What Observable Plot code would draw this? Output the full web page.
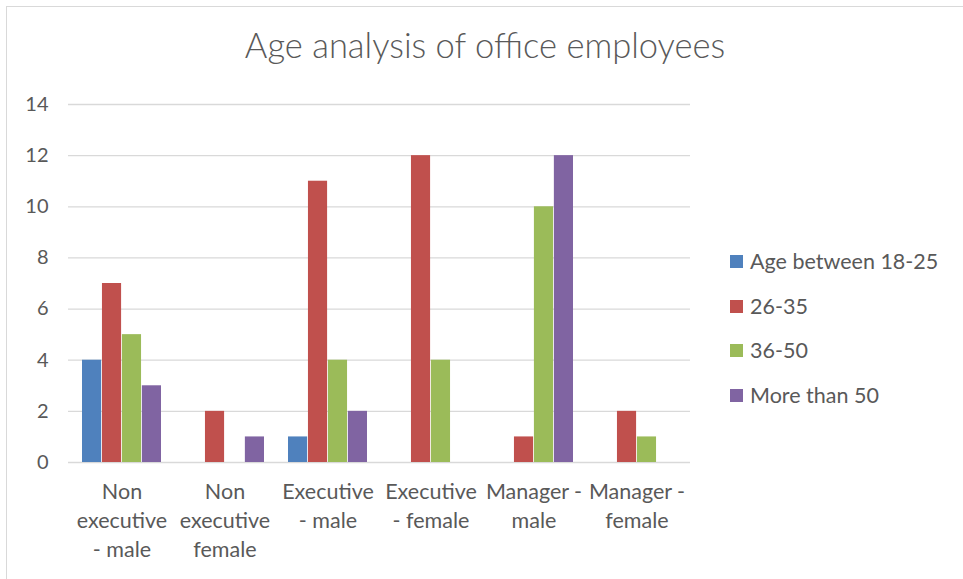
<!DOCTYPE html>
<html>
<head>
<meta charset="utf-8">
<script src="https://cdn.jsdelivr.net/npm/d3@7"></script>
<script src="https://cdn.jsdelivr.net/npm/@observablehq/plot@0.6"></script>
<style>
  body { margin: 0; background: #fff; }
  #wrap { position: relative; width: 963px; height: 579px; overflow: hidden; font-family: Lato, "Open Sans", sans-serif; color: #595959; }
  #border { position: absolute; left: 6px; top: 6px; width: 975px; height: 590px; border: 1px solid #d9d9d9; box-sizing: border-box; }
  #title { position: absolute; left: 0; width: 970px; top: 28px; text-align: center; font-size: 34.5px; font-weight: 300; color: #595959; line-height: 1; }
  #legend { position: absolute; left: 730px; top: 249px; }
  .item { position: relative; height: 44.5px; font-size: 21.5px; white-space: nowrap; }
  .sw { position: absolute; left: 0; top: 6px; width: 13px; height: 13px; }
  .lab { position: absolute; left: 20px; top: 0; line-height: 25px; }
  #chart { position: absolute; left: 0; top: 0; }
</style>
</head>
<body>
<div id="wrap">
  <div id="border"></div>
  <div id="chart"></div>
  <div id="title">Age analysis of office employees</div>
  <div id="legend"></div>
</div>
<script>
const categories = ["Non executive - male", "Non executive female", "Executive - male", "Executive - female", "Manager - male", "Manager - female"];
const categoryLabels = ["Non\nexecutive\n- male", "Non\nexecutive\nfemale", "Executive\n- male", "Executive\n- female", "Manager -\nmale", "Manager -\nfemale"];
const series = ["Age between 18-25", "26-35", "36-50", "More than 50"];
const colors = ["#4f81bd", "#c0504d", "#9bbb59", "#8064a2"];
const age18to25 = [4, 0, 1, 0, 0, 0];
const age26to35 = [7, 2, 11, 12, 1, 2];
const age36to50 = [5, 0, 4, 4, 10, 1];
const ageOver50 = [3, 1, 2, 0, 12, 0];
const yTicks = [0, 2, 4, 6, 8, 10, 12, 14];

const values = [age18to25, age26to35, age36to50, ageOver50];
const rows = [];
series.forEach((s, si) => categories.forEach((c, ci) => rows.push({category: c, series: s, value: values[si][ci]})));

const W = 963, H = 579, mL = 68, mR = 273, mT = 104, mB = 117;
const pi = 0.23, po = 0.115;
const step = (W - mL - mR) / (categories.length - pi + 2 * po);
const bw = step * (1 - pi) / series.length;

const chart = Plot.plot({
  width: W, height: H,
  marginLeft: mL, marginRight: mR, marginTop: mT, marginBottom: mB,
  style: {fontFamily: "Lato, 'Open Sans', sans-serif", fontSize: "20px", color: "#595959", background: "transparent"},
  x: {domain: categories, paddingInner: pi, paddingOuter: po, axis: null},
  y: {domain: [0, 14], ticks: yTicks, tickSize: 0, tickPadding: 20, label: null, tickFormat: d => d},
  color: {domain: series, range: colors},
  marks: [
    Plot.ruleY(yTicks, {stroke: "#d9d9d9", strokeWidth: 1.3}),
    ...series.map((s, i) => Plot.barY(rows.filter(r => r.series === s), {
      x: "category", y: "value", fill: "series",
      insetLeft: i * bw, insetRight: (series.length - 1 - i) * bw
    })),
    Plot.text(categories, {
      x: d => d, text: (d, i) => categoryLabels[i],
      frameAnchor: "bottom", lineAnchor: "top", dy: 16,
      fontSize: 21.5, lineHeight: 1.35, fill: "#595959"
    })
  ]
});
document.getElementById("chart").appendChild(chart);

const legend = document.getElementById("legend");
series.forEach((s, i) => {
  const item = document.createElement("div");
  item.className = "item";
  item.innerHTML = `<span class="sw" style="background:${colors[i]}"></span><span class="lab">${s}</span>`;
  legend.appendChild(item);
});
</script>
</body>
</html>
